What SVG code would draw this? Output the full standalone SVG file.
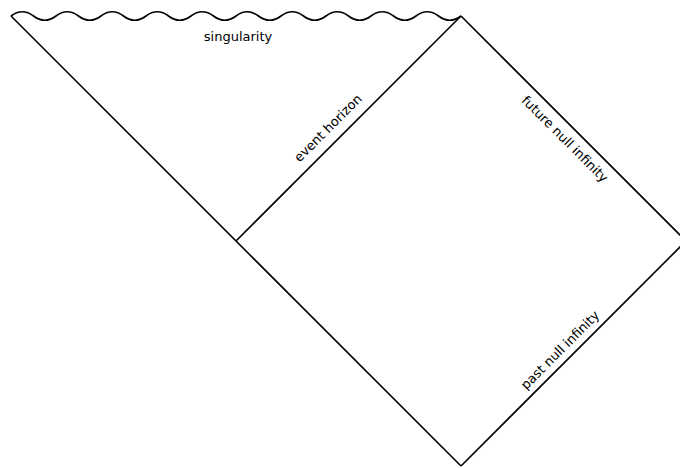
<svg xmlns="http://www.w3.org/2000/svg" width="680" height="468" viewBox="0 0 680 468">
<style>
.ln{fill:none;stroke:#000;stroke-width:1.6;stroke-linejoin:miter}
.lbl{font-family:"DejaVu Sans",sans-serif;font-size:13px;fill:#000;text-anchor:middle}
</style>
<rect width="680" height="468" fill="#fff"/>
<g id="boundaries">
<path id="singularity" class="ln" d="M11,16 Q22.25,7.5 33.5,16 T56,16 T78.5,16 T101,16 T123.5,16 T146,16 T168.5,16 T191,16 T213.5,16 T236,16 T258.5,16 T281,16 T303.5,16 T326,16 T348.5,16 T371,16 T393.5,16 T416,16 T438.5,16 T461,16"/>
<path id="left-edge" class="ln" d="M11,16 L461,466"/>
<path id="event-horizon" class="ln" d="M236,241 L461,16"/>
<path id="future-null-infinity" class="ln" d="M461,16 L686,241"/>
<path id="past-null-infinity" class="ln" d="M461,466 L686,241"/>
</g>
<g id="labels">
<text class="lbl" x="238" y="41">singularity</text>
<text class="lbl" transform="translate(328,128) rotate(-45)" y="4.5">event horizon</text>
<text class="lbl" transform="translate(565,139) rotate(45)" y="4.5">future null infinity</text>
<text class="lbl" transform="translate(560,350) rotate(-45)" y="4.5">past null infinity</text>
</g>
</svg>
